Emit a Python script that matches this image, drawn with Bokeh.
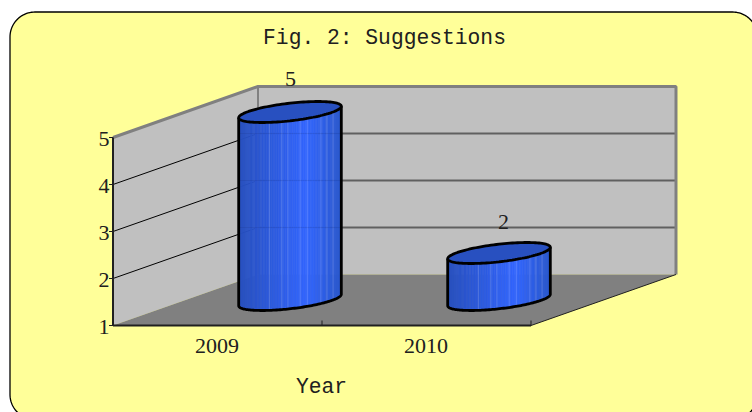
import numpy as np
from bokeh.plotting import figure
from bokeh.models import Range1d
from bokeh.core.properties import value as val
from bokeh.embed import file_html
from bokeh.resources import INLINE

categories = ["2009", "2010"]
suggestions = [5, 2]
y_ticks = [1, 2, 3, 4, 5]
title_text = "Fig. 2: Suggestions"
x_title = "Year"

# Projection of the pseudo-3D chart onto the page
X0, Y0 = 112.5, 325        # front-left floor corner
BAND = 209                 # px per category
UNIT = 47                  # px per value unit
DX, DY = 145, -51          # depth vector
VMIN = y_ticks[0]
LABEL_NUDGE = [(0.5, -33.5), (4.5, -31.5)]  # value-label offsets from the bar top

def sx(c, d=0.0):
    return X0 + BAND * c + DX * d

def sy(v, d=0.0):
    return Y0 - UNIT * (v - VMIN) + DY * d

W, H = 752, 412
p = figure(width=W, height=H, output_backend="svg", toolbar_location=None,
           x_range=Range1d(0, W), y_range=Range1d(H, 0),
           min_border=0, outline_line_color=None, background_fill_color="white",
           border_fill_color="white")
p.axis.visible = False
p.grid.visible = False

# Card
L, T, R, B, r = 9.5, 11.5, 757, 419, 25
arc = np.linspace(0, np.pi / 2, 24)
cx = np.concatenate([L + r - r * np.cos(arc), R - r + r * np.sin(arc),
                     R - r + r * np.cos(arc), L + r - r * np.sin(arc)])
cy = np.concatenate([T + r - r * np.sin(arc), T + r - r * np.cos(arc),
                     B - r + r * np.sin(arc), B - r + r * np.cos(arc)])
p.patch(cx, cy, fill_color="#ffff99", line_color="black", line_width=1.3)

n = len(categories)
vmax = y_ticks[-1]
# Walls and floor
p.patch([sx(0), sx(0), sx(0, 1), sx(0, 1)],
        [sy(VMIN), sy(vmax), sy(vmax, 1), sy(VMIN, 1)],
        fill_color="#c0c0c0", line_color=None)
p.patch([sx(0, 1), sx(0, 1), sx(n, 1), sx(n, 1)],
        [sy(VMIN, 1), sy(vmax, 1), sy(vmax, 1), sy(VMIN, 1)],
        fill_color="#c0c0c0", line_color=None)
p.patch([sx(0), sx(n), sx(n, 1), sx(0, 1)],
        [sy(VMIN), sy(VMIN), sy(VMIN, 1), sy(VMIN, 1)],
        fill_color="#808080", line_color=None)

# Gridlines
for v in y_ticks[1:-1]:
    p.line([sx(0), sx(0, 1)], [sy(v), sy(v, 1)], line_color="black", line_width=1)
    p.line([sx(0, 1), sx(n, 1)], [sy(v, 1), sy(v, 1)], line_color="#606060", line_width=2)

# Wall edges
p.line([sx(0), sx(0, 1), sx(n, 1), sx(n, 1)],
       [sy(vmax), sy(vmax, 1), sy(vmax, 1), sy(VMIN, 1)],
       line_color="#808080", line_width=3)
p.line([sx(0, 1), sx(0, 1)], [sy(vmax, 1), sy(VMIN, 1)], line_color="#808080", line_width=2)

# Axes
p.line([sx(0), sx(0)], [sy(vmax), sy(VMIN)], line_color="#202020", line_width=2)
p.line([sx(0), sx(n)], [sy(VMIN), sy(VMIN)], line_color="#202020", line_width=2)
p.line([sx(n), sx(n, 1)], [sy(VMIN), sy(VMIN, 1)], line_color="#202020", line_width=1)
for v in y_ticks:
    p.line([sx(0) - 4, sx(0)], [sy(v), sy(v)], line_color="#202020", line_width=1)
for c in range(1, n + 1):
    p.line([sx(c), sx(c)], [sy(VMIN) - 5, sy(VMIN)], line_color="#202020", line_width=1)

# Cylinders
UX, VX, VY = 43.0, 28.0, -10.5
t0 = np.arctan2(VX, UX)
HALF = np.hypot(UX, VX)
STREAKS = [0.30, 0.42, 0.48, 0.60, 0.67, 0.80, 0.86, 0.92]

def mix(a, b, f):
    return "#%02x%02x%02x" % tuple(int(round(a[i] + (b[i] - a[i]) * f)) for i in range(3))

DARK, BRIGHT, EDGE = (40, 80, 190), (51, 102, 255), (42, 88, 205)

def shade(f):
    return mix(DARK, BRIGHT, f / 0.66) if f < 0.66 else mix(BRIGHT, EDGE, (f - 0.66) / 0.34)

for i, v in enumerate(suggestions):
    xc = sx(i + 0.5, 0.5)
    yb, yt = sy(VMIN, 0.5), sy(v, 0.5)
    # front half of the elliptical outline, left silhouette to right silhouette
    ts = np.linspace(t0 + np.pi, t0 + 2 * np.pi, 90)
    fx = xc + UX * np.cos(ts) + VX * np.sin(ts)
    fo = VY * np.sin(ts)
    for k in range(len(ts) - 1):
        f = (0.5 * (fx[k] + fx[k + 1]) - (xc - HALF)) / (2 * HALF)
        col = shade(f)
        p.patch([fx[k], fx[k + 1], fx[k + 1], fx[k]],
                [yt + fo[k], yt + fo[k + 1], yb + fo[k + 1], yb + fo[k]],
                fill_color=col, line_color=col, line_width=0.6)
    for f in STREAKS:
        x = xc - HALF + f * 2 * HALF
        off = np.interp(x, fx, fo)
        p.line([x, x], [yt + off, yb + off], line_color="white", line_alpha=0.14, line_width=1.2)
    for g in y_ticks[1:-1]:
        gy = sy(g, 1)
        if gy > yt + 10 and gy < yb:
            p.line([xc - HALF, xc + HALF], [gy, gy], line_color="#102060", line_alpha=0.12, line_width=1)
    # outline of sides and base
    p.line(np.concatenate([[fx[0]], fx, [fx[-1]]]),
           np.concatenate([[yt + fo[0]], yb + fo, [yt + fo[-1]]]),
           line_color="black", line_width=2.8, line_join="round")
    # top ellipse
    ta = np.linspace(0, 2 * np.pi, 121)
    p.patch(xc + UX * np.cos(ta) + VX * np.sin(ta), yt + VY * np.sin(ta),
            fill_color="#2850c0", line_color="black", line_width=2.8)

# Texts
NUM = dict(text_font=val("Liberation Serif"), text_font_size="22px", text_color="#202020",
           text_align="center", text_baseline="middle")
MONO = dict(text_font=val("Liberation Mono"), text_font_size="21.3px", text_color="#202020",
            text_align="center", text_baseline="middle")
p.text([sx(0) - 9] * len(y_ticks), [sy(v) + 1 for v in y_ticks], text=[str(v) for v in y_ticks], **NUM)
p.text([sx(i + 0.5) - 0.5 for i in range(n)], [sy(VMIN) + 20] * n, text=categories, **NUM)
p.text([sx(i + 0.5, 0.5) + LABEL_NUDGE[i][0] for i in range(n)],
       [sy(v, 0.5) + LABEL_NUDGE[i][1] for i, v in enumerate(suggestions)],
       text=[str(v) for v in suggestions], **NUM)
p.text([384], [37], text=[title_text], **MONO)
p.text([321], [386], text=[x_title], **MONO)

open("out.html", "w").write(file_html(p, INLINE))
